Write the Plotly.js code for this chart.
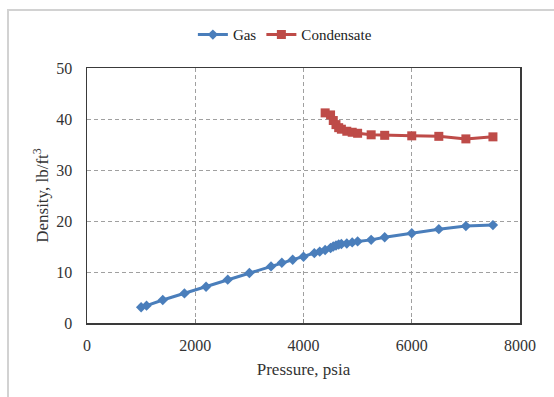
<!DOCTYPE html>
<html>
<head>
<meta charset="utf-8">
<script src="https://cdn.plot.ly/plotly-3.0.1.min.js"></script>
<style>
  html, body { margin: 0; padding: 0; background: #fff; }
  #wrap { position: relative; width: 554px; height: 397px; }
  #chart { position: absolute; left: 0; top: 0; width: 554px; height: 397px; }
  #frame { position: absolute; left: 7px; top: 9px; width: 560px; height: 400px;
           border-left: 2px solid #d2d2d2; border-top: 2px solid #d2d2d2; pointer-events: none; }
</style>
</head>
<body>
<div id="wrap">
  <div id="chart"></div>
  <div id="frame"></div>
</div>
<script>
// Data
const gasPressure = [1000, 1100, 1400, 1800, 2200, 2600, 3000, 3400, 3600, 3800, 4000, 4200, 4300, 4400, 4500, 4550, 4600, 4650, 4700, 4800, 4900, 5000, 5250, 5500, 6000, 6500, 7000, 7500];
const gasDensity  = [3.1, 3.4, 4.5, 5.8, 7.1, 8.5, 9.8, 11.1, 11.8, 12.4, 13.0, 13.7, 14.0, 14.3, 14.7, 15.0, 15.2, 15.4, 15.5, 15.6, 15.8, 16.0, 16.3, 16.8, 17.6, 18.4, 19.0, 19.2];
const condPressure = [4400, 4500, 4550, 4600, 4650, 4700, 4800, 4900, 5000, 5250, 5500, 6000, 6500, 7000, 7500];
const condDensity  = [41.2, 40.8, 39.7, 38.9, 38.3, 38.0, 37.6, 37.4, 37.2, 36.9, 36.8, 36.7, 36.6, 36.1, 36.5];
const xTicks = [0, 2000, 4000, 6000, 8000];
const yTicks = [0, 10, 20, 30, 40, 50];

const serif = 'Liberation Serif';

const traces = [
  {
    x: gasPressure, y: gasDensity, name: 'Gas', type: 'scatter', mode: 'lines+markers',
    line: { color: '#4A7EBB', width: 3 },
    marker: { symbol: 'diamond', size: 8, color: '#4A7EBB' }
  },
  {
    x: condPressure, y: condDensity, name: 'Condensate', type: 'scatter', mode: 'lines+markers',
    line: { color: '#BE4B48', width: 3 },
    marker: { symbol: 'square', size: 9, color: '#BE4B48' }
  }
];

const layout = {
  width: 554, height: 397,
  margin: { l: 87, r: 34, t: 68, b: 74 },
  paper_bgcolor: '#fff', plot_bgcolor: '#fff',
  font: { family: serif, size: 16, color: '#333' },
  showlegend: true,
  legend: {
    orientation: 'h', x: 0.457, xanchor: 'center', y: 1.13, yanchor: 'middle',
    font: { family: serif, size: 15, color: '#222' },
    itemwidth: 30, tracegroupgap: 0
  },
  xaxis: {
    range: [0, 8000], tickvals: xTicks, ticktext: xTicks.map(String),
    showgrid: true, gridcolor: '#a0a0a0', griddash: '4px,3px', gridwidth: 1,
    showline: true, linecolor: '#3a3a3a', linewidth: 1.5, mirror: true,
    ticks: 'inside', ticklen: 4, tickcolor: '#808080',
    ticklabelstandoff: 7,
    zeroline: false,
    tickfont: { family: serif, size: 16, color: '#333' },
    title: { text: 'Pressure, psia', font: { family: serif, size: 17, color: '#333' }, standoff: 10 }
  },
  yaxis: {
    range: [0, 50], tickvals: yTicks, ticktext: yTicks.map(String),
    showgrid: true, gridcolor: '#a0a0a0', griddash: '4px,3px', gridwidth: 1,
    showline: true, linecolor: '#3a3a3a', linewidth: 1.5, mirror: true,
    ticks: '', zeroline: false,
    ticklabelstandoff: 10,
    tickfont: { family: serif, size: 16, color: '#333' },
    title: { text: 'Density, lb/ft<sup>3</sup>', font: { family: serif, size: 17, color: '#333' }, standoff: 3 }
  }
};

Plotly.newPlot('chart', traces, layout, { displayModeBar: false, staticPlot: true });
</script>
</body>
</html>
